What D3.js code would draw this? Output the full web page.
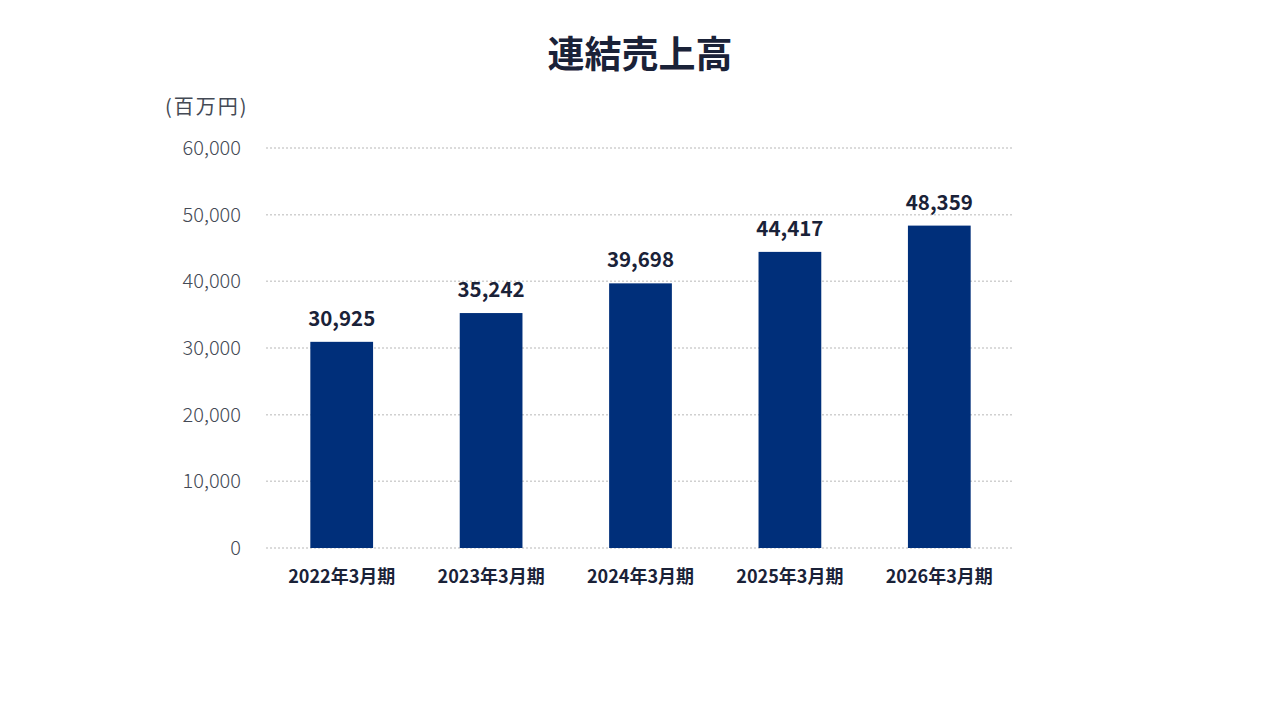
<!DOCTYPE html>
<html><head><meta charset="utf-8">
<script src="https://cdn.jsdelivr.net/npm/d3@7"></script>
<style>body{margin:0;background:#fff}</style>
</head><body>
<svg id="c" width="1280" height="720"></svg>
<script>
const categories = ["2022年3月期","2023年3月期","2024年3月期","2025年3月期","2026年3月期"];
const values = [30925, 35242, 39698, 44417, 48359];
const yTicks = [0,10000,20000,30000,40000,50000,60000];
const title = "連結売上高";
const unitLabel = "(百万円)";

(function(){
const svg = d3.select("#c");
const font = "'Noto Sans CJK JP','Noto Sans',sans-serif";
const pLeft = 267, pRight = 1014, pTop = 148, pBottom = 548;
const x = d3.scaleBand().domain(categories).range([pLeft,pRight]).paddingInner(0.58).paddingOuter(0.29);
const y = d3.scaleLinear().domain([0,60000]).range([pBottom,pTop]);

svg.append("text").attr("x",640).attr("y",68).attr("text-anchor","middle")
  .attr("font-family",font).attr("font-weight",700).attr("font-size",37).attr("fill","#1a2238").text(title);
svg.append("text").attr("x",165).attr("y",114)
  .attr("font-family",font).attr("font-size",20).attr("letter-spacing",2).attr("fill","#444a55").text(unitLabel);

const grid = svg.append("g");
grid.selectAll("line").data(yTicks).join("line")
  .attr("x1",pLeft-1).attr("x2",pRight-1).attr("y1",d=>y(d)).attr("y2",d=>y(d))
  .attr("stroke","#d0d0d0").attr("stroke-width",1.5).attr("stroke-dasharray","2,2");

const yAxis = d3.axisLeft(y).tickValues(yTicks).tickFormat(d3.format(",")).tickSize(0).tickPadding(0);
const ya = svg.append("g").attr("transform",`translate(241,0)`).call(yAxis);
ya.select(".domain").remove();
ya.selectAll("text").attr("font-family",font).attr("font-size",20).attr("fill","#444a55").attr("font-weight",300);

svg.append("g").selectAll("rect").data(values).join("rect")
  .attr("x",(d,i)=>x(categories[i])).attr("width",x.bandwidth())
  .attr("y",d=>y(d)).attr("height",d=>pBottom-y(d)).attr("fill","#002f7a");

svg.append("g").selectAll("text").data(values).join("text")
  .attr("x",(d,i)=>x(categories[i])+x.bandwidth()/2).attr("y",d=>y(d)-16)
  .attr("text-anchor","middle").attr("font-family",font).attr("font-weight",700)
  .attr("font-size",20.5).attr("fill","#1a2238").text(d=>d3.format(",")(d));

const xAxis = d3.axisBottom(x).tickSize(0).tickPadding(0);
const xa = svg.append("g").attr("transform",`translate(0,${pBottom+35})`).call(xAxis);
xa.select(".domain").remove();
xa.selectAll("text").attr("font-family",font).attr("font-weight",700).attr("font-size",18).attr("fill","#1a2238").attr("dy","0.35em").attr("y",-6);
})();
</script>
</body></html>
